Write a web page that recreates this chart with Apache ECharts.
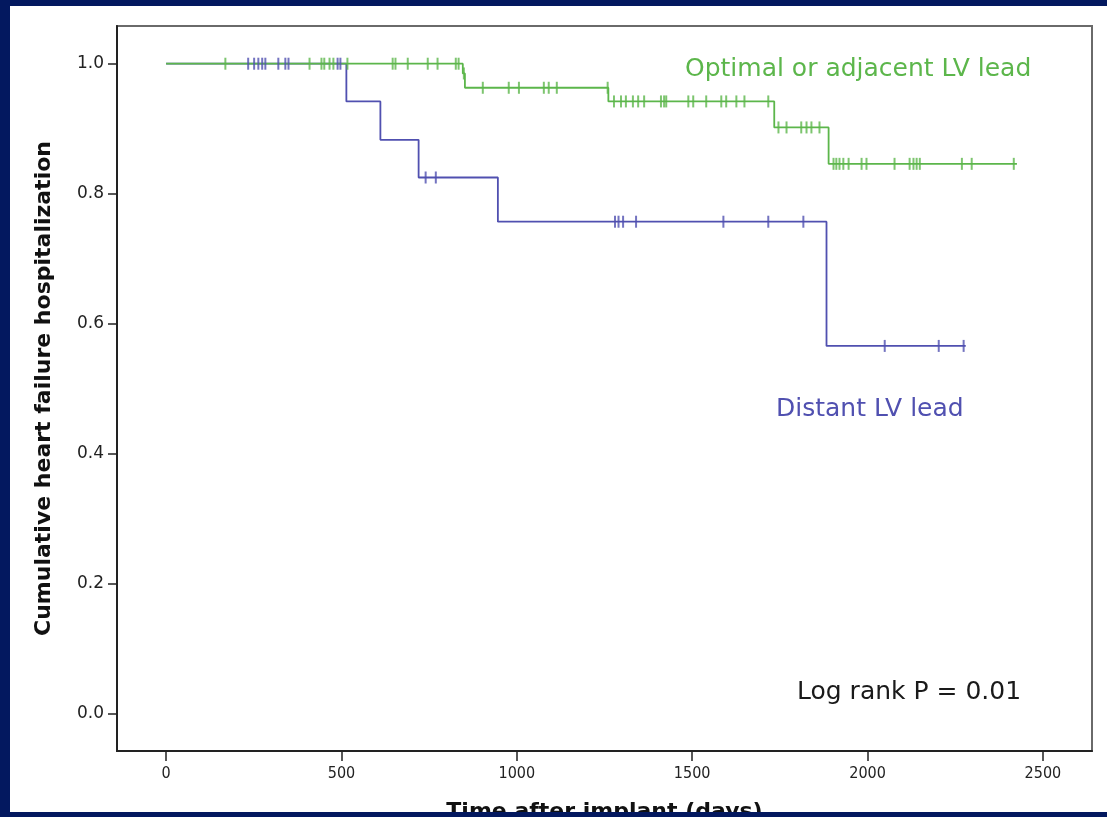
<!DOCTYPE html>
<html>
<head>
<meta charset="utf-8">
<script src="https://cdn.jsdelivr.net/npm/echarts@6/dist/echarts.min.js"></script>
<style>
  html, body { margin: 0; padding: 0; background: #03185f; width: 1107px; height: 817px; overflow: hidden; }
  #main { position: absolute; left: 10px; top: 6px; width: 1097px; height: 806px; background: #fff; }
</style>
</head>
<body>
<div id="main"></div>
<script>
// Kaplan-Meier steps: time (days) and survival after each event
var greenTimes = [0, 846, 852, 1261, 1734, 1889, 2426];
var greenSurv  = [1, 0.985, 0.963, 0.942, 0.902, 0.846, 0.846];
var blueTimes  = [0, 514, 611, 720, 946, 1883, 2280];
var blueSurv   = [1, 0.942, 0.883, 0.825, 0.757, 0.566, 0.566];

// censored observations (days)
var greenCensor = [169, 409, 443, 451, 466, 477, 517, 646, 654, 689, 746, 774, 826, 834, 849,
  903, 977, 1006, 1077, 1091, 1114, 1259, 1277, 1297, 1311, 1331, 1346, 1363, 1411, 1420, 1426,
  1489, 1503, 1540, 1583, 1597, 1626, 1649, 1717, 1746, 1769, 1811, 1826, 1840, 1863,
  1903, 1911, 1920, 1931, 1946, 1983, 1997, 2077, 2120, 2131, 2140, 2149, 2269, 2297, 2417];
var blueCensor = [234, 251, 263, 274, 283, 320, 340, 349, 489, 497, 740, 769,
  1280, 1290, 1303, 1340, 1589, 1717, 1817, 2049, 2203, 2274];

var xTicks = [0, 500, 1000, 1500, 2000, 2500];
var yTicks = [0, 0.2, 0.4, 0.6, 0.8, 1.0];

var green = '#5cb64b';
var blue = '#5050b0';

function stepData(times, surv) {
  return times.map(function (t, i) { return [t, surv[i]]; });
}
function survAt(times, surv, t) {
  var s = surv[0];
  for (var i = 0; i < times.length; i++) {
    if (times[i] <= t) s = surv[i];
  }
  return s;
}
function censorData(list, times, surv) {
  return list.map(function (t) { return [t, survAt(times, surv, t)]; });
}

var chart = echarts.init(document.getElementById('main'));

var option = {
  backgroundColor: '#fff',
  animation: false,
  grid: {
    left: 107, right: 15, top: 20, bottom: 61,
    outerBoundsMode: 'none',
    show: true, borderColor: '#6a6a6a', borderWidth: 2
  },
  xAxis: {
    type: 'value',
    min: -140, max: 2640,
    name: 'Time after implant (days)',
    nameLocation: 'middle',
    nameGap: 50,
    nameTextStyle: { fontFamily: 'DejaVu Sans', fontWeight: 'bold', fontSize: 22, color: '#111' },
    splitLine: { show: false },
    axisLine: { onZero: false, lineStyle: { color: '#222', width: 2 } },
    axisTick: { customValues: xTicks, length: 10, lineStyle: { color: '#222', width: 1.5 } },
    axisLabel: {
      customValues: xTicks, margin: 15,
      fontFamily: 'DejaVu Sans Condensed', fontSize: 16, color: '#222',
      formatter: function (v) { return String(v); }
    }
  },
  yAxis: {
    type: 'value',
    min: -0.057, max: 1.058,
    name: 'Cumulative heart failure hospitalization',
    nameLocation: 'middle',
    nameGap: 62,
    nameTextStyle: { fontFamily: 'DejaVu Sans', fontWeight: 'bold', fontSize: 22, color: '#111' },
    splitLine: { show: false },
    axisLine: { onZero: false, lineStyle: { color: '#222', width: 2 } },
    axisTick: { customValues: yTicks, length: 9, lineStyle: { color: '#222', width: 1.5 } },
    axisLabel: {
      customValues: yTicks, margin: 13,
      fontFamily: 'DejaVu Sans', fontSize: 17, color: '#222',
      formatter: function (v) { return v.toFixed(1); }
    }
  },
  series: [
    {
      type: 'line', name: 'Distant', step: 'end', showSymbol: false, z: 2,
      lineStyle: { color: blue, width: 1.8 },
      data: stepData(blueTimes, blueSurv)
    },
    {
      type: 'line', name: 'Optimal', step: 'end', showSymbol: false, z: 3,
      lineStyle: { color: green, width: 1.8 },
      data: stepData(greenTimes, greenSurv)
    },
    {
      type: 'scatter', name: 'Optimal censored', z: 4,
      symbol: 'rect', symbolSize: [2, 12],
      itemStyle: { color: green },
      data: censorData(greenCensor, greenTimes, greenSurv)
    },
    {
      type: 'scatter', name: 'Distant censored', z: 5,
      symbol: 'rect', symbolSize: [2, 12],
      itemStyle: { color: blue },
      data: censorData(blueCensor, blueTimes, blueSurv)
    }
  ],
  graphic: [
    {
      type: 'text', x: 675, y: 63,
      style: { text: 'Optimal or adjacent LV lead', fill: green, fontFamily: 'DejaVu Sans', fontSize: 25, verticalAlign: 'middle' }
    },
    {
      type: 'text', x: 766, y: 403,
      style: { text: 'Distant LV lead', fill: blue, fontFamily: 'DejaVu Sans', fontSize: 25, verticalAlign: 'middle' }
    },
    {
      type: 'text', x: 787, y: 686,
      style: { text: 'Log rank P = 0.01', fill: '#1a1a1a', fontFamily: 'DejaVu Sans', fontSize: 25, verticalAlign: 'middle' }
    }
  ]
};

chart.setOption(option);
</script>
</body>
</html>
